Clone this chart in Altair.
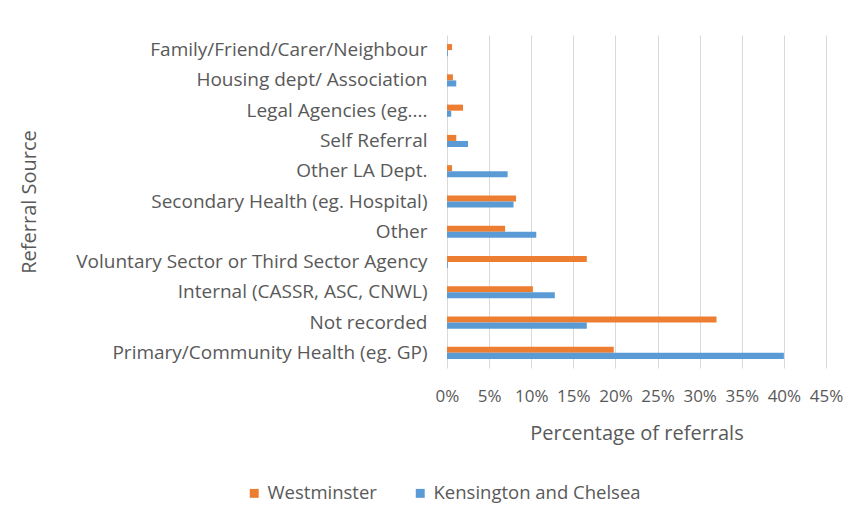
import altair as alt
import pandas as pd

categories = [
    "Family/Friend/Carer/Neighbour",
    "Housing dept/ Association",
    "Legal Agencies (eg....",
    "Self Referral",
    "Other LA Dept.",
    "Secondary Health (eg. Hospital)",
    "Other",
    "Voluntary Sector or Third Sector Agency",
    "Internal (CASSR, ASC, CNWL)",
    "Not recorded",
    "Primary/Community Health (eg. GP)",
]
westminster = [0.6, 0.7, 1.9, 1.1, 0.6, 8.2, 6.9, 16.6, 10.2, 32.0, 19.8]
kensington = [0.1, 1.1, 0.5, 2.5, 7.2, 7.9, 10.6, 0.1, 12.8, 16.6, 40.0]
series = ["Westminster", "Kensington and Chelsea"]
colors = ["#ED7D31", "#5B9BD5"]
tick_values = [0, 0.05, 0.10, 0.15, 0.20, 0.25, 0.30, 0.35, 0.40, 0.45]

rows = []
for c, w, k in zip(categories, westminster, kensington):
    rows.append({"source": c, "series": series[0], "value": w / 100})
    rows.append({"source": c, "series": series[1], "value": k / 100})
df = pd.DataFrame(rows)

FONT = "Open Sans"
GRAY = "#595959"

chart = alt.Chart(df).mark_bar().encode(
    y=alt.Y("source:N", sort=categories,
            scale=alt.Scale(paddingInner=0.6, paddingOuter=0.3),
            axis=alt.Axis(title="Referral Source", labelLimit=600, ticks=False,
                          domain=False, labelPadding=20, titleX=-408,
                          labelFontSize=19, titleFontSize=20,
                          labelOverlap=False)),
    yOffset=alt.YOffset("series:N", sort=series),
    x=alt.X("value:Q", scale=alt.Scale(domain=[0, 0.45], nice=False),
            axis=alt.Axis(title="Percentage of referrals", format=".0%",
                          values=tick_values, ticks=False, domain=False,
                          labelPadding=20, titlePadding=19, labelOverlap=False,
                          labelFlush=False,
                          labelFontSize=17, titleFontSize=20,
                          grid=True, gridColor="#D9D9D9")),
    color=alt.Color("series:N", sort=series,
                    scale=alt.Scale(domain=series, range=colors),
                    legend=alt.Legend(title=None, orient="none", direction="horizontal",
                                      legendX=-202, legendY=449, symbolType="square",
                                      symbolSize=80, labelFontSize=18.5,
                                      columnPadding=34, labelColor=GRAY,
                                      labelFont=FONT, labelLimit=400)),
).properties(
    width=379,
    height=333,
    autosize=alt.AutoSizeParams(type="none"),
    padding={"left": 439, "top": 27, "right": 25, "bottom": 140},
).configure_view(stroke=None).configure_axis(
    labelColor=GRAY, titleColor=GRAY, labelFont=FONT, titleFont=FONT,
    titleFontWeight="normal",
).configure_axisY(
    grid=False,
)

chart.save("out.html", embed_options={"renderer": "svg", "actions": False})
